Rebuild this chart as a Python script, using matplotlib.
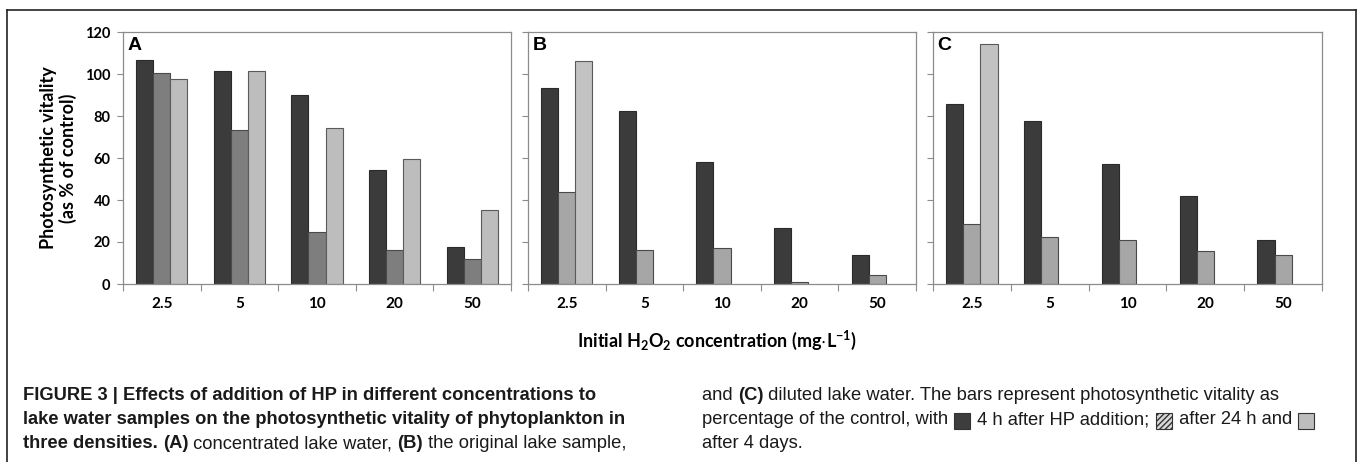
import matplotlib
matplotlib.use("Agg")
import matplotlib.pyplot as plt
from matplotlib.patches import Rectangle
from matplotlib.lines import Line2D
import numpy as np

# Data.
categories = ["2.5", "5", "10", "20", "50"]
panel_labels = ["A", "B", "C"]

a_4h  = [106.9, 101.2, 89.8, 54.1, 17.7]
a_24h = [100.5, 73.3, 24.9, 16.1, 12.0]
a_4d  = [97.4, 101.2, 74.2, 59.7, 35.1]

b_4h  = [93.4, 82.2, 57.9, 26.9, 13.9]
b_24h = [43.9, 16.1, 17.3, 0.9, 4.4]
b_4d  = [106.2, np.nan, np.nan, np.nan, np.nan]

c_4h  = [85.6, 77.7, 57.1, 41.8, 20.9]
c_24h = [28.7, 22.5, 21.1, 15.7, 13.8]
c_4d  = [114.5, np.nan, np.nan, np.nan, np.nan]

y_ticks = [0, 20, 40, 60, 80, 100, 120]

W, H = 1358, 462
fig = plt.figure(figsize=(W/100, H/100), dpi=100)
plt.rcParams['mathtext.default'] = 'regular'

chart_font = ['Lato', 'DejaVu Sans']
cap_font   = ['Liberation Sans', 'DejaVu Sans']

def px(x, y):
  return x/W, 1 - y/H

# Axes boxes in pixels (left, right), shared top/bottom.
boxes = [(123, 511), (528, 916), (933, 1322)]
top_px, bot_px = 32, 284
panels = [(a_4h, a_24h, a_4d, "#7e7e7e", "#bdbdbd"),
          (b_4h, b_24h, b_4d, "#a6a6a6", "#c2c2c2"),
          (c_4h, c_24h, c_4d, "#a6a6a6", "#c2c2c2")]

x = np.arange(len(categories))
bw = 0.22
spine_col = "#8c8c8c"
for k, ((l, r), (s1, s2, s3, col2, col3)) in enumerate(zip(boxes, panels)):
  ax = fig.add_axes([l/W, 1 - bot_px/H, (r - l)/W, (bot_px - top_px)/H])
  ax.bar(x - bw, s1, bw, color="#3b3b3b", edgecolor="#2a2a2a", linewidth=0.8)
  ax.bar(x,      s2, bw, color=col2,      edgecolor="#4a4a4a", linewidth=0.8)
  ax.bar(x + bw, s3, bw, color=col3,      edgecolor="#5a5a5a", linewidth=0.8)
  ax.set_xlim(-0.5, len(categories) - 0.5)
  ax.set_ylim(0, 120)
  ax.set_yticks(y_ticks)
  ax.set_xticks(np.arange(-0.5, len(categories), 1.0))
  ax.set_xticklabels([])
  ax.set_xticks(x, minor=True)
  ax.set_xticklabels(categories, minor=True, fontsize=11, fontweight='bold', family=chart_font)
  ax.tick_params(axis='x', which='minor', length=0, pad=9)
  ax.tick_params(axis='x', which='major', length=5, color=spine_col, direction='out')
  ax.tick_params(axis='y', length=4, color=spine_col, direction='out', pad=5)
  for s in ax.spines.values():
    s.set_color(spine_col)
    s.set_linewidth(0.9)
  if k == 0:
    ax.set_yticklabels([str(v) for v in y_ticks], fontsize=10.5, fontweight='bold', family=chart_font)
    ax.set_ylabel("Photosynthetic vitality\n(as % of control)", fontsize=13, fontweight='bold',
                  family=chart_font, labelpad=6, linespacing=1.1)
  else:
    ax.set_yticklabels([])
  ax.text(0.011, 0.982, panel_labels[k], transform=ax.transAxes, ha='left', va='top',
          fontsize=14, fontweight='bold', family=['Liberation Sans'])

# Shared x label, centred under the three panels.
fig.text(*px(717, 340), r"Initial H$_2$O$_2$ concentration (mg$\cdot$L$^{-1}$)",
         ha='center', va='center', fontsize=13, fontweight='bold', family=chart_font)

# Outer frame.
for (x0, y0, x1, y1) in [(7, 10, 1356, 10), (7, 10, 7, 470), (1356, 10, 1356, 470)]:
  fig.add_artist(Line2D([x0/W, x1/W], [1 - y0/H, 1 - y1/H], color="#222222", linewidth=1.2,
                        transform=fig.transFigure))

# Caption in two columns.
cap_size = 13.2
left_lines = [
  [("FIGURE 3 | Effects of addition of HP in different concentrations to", 'bold')],
  [("lake water samples on the photosynthetic vitality of phytoplankton in", 'bold')],
  [("three densities. ", 'bold'), ("(A)", 'bold'), (" concentrated lake water, ", 'normal'),
   ("(B)", 'bold'), (" the original lake sample,", 'normal')],
]
right_lines = [
  [("and ", 'normal'), ("(C)", 'bold'), (" diluted lake water. The bars represent photosynthetic vitality as", 'normal')],
  [("percentage of the control, with ", 'normal'), ("#3d3d3d", 'box'), (" 4 h after HP addition; ", 'normal'),
   ("#9a9a9a", 'hbox'), (" after 24 h and ", 'normal'), ("#bdbdbd", 'box')],
  [("after 4 days.", 'normal')],
]
line_y = [396, 420, 444]

fig.canvas.draw()
renderer = fig.canvas.get_renderer()

def write_lines(lines, x_start):
  for yy, parts in zip(line_y, lines):
    cur = x_start
    for txt, kind in parts:
      if kind in ('box', 'hbox'):
        size = 16
        rect = Rectangle(((cur + 1)/W, 1 - (yy + size/2 + 1)/H), size/W, size/H,
                         transform=fig.transFigure, facecolor=txt if kind == 'box' else "#d8d8d8",
                         edgecolor="#333333", linewidth=0.8,
                         hatch='//////' if kind == 'hbox' else None)
        fig.add_artist(rect)
        cur += size + 3
        continue
      t = fig.text(cur/W, 1 - yy/H, txt, ha='left', va='center', fontsize=cap_size,
                   fontweight=kind, family=cap_font, color="#1a1a1a")
      bb = t.get_window_extent(renderer=renderer)
      cur += bb.width

write_lines(left_lines, 23)
write_lines(right_lines, 702)

fig.savefig("out.png", dpi=100)
